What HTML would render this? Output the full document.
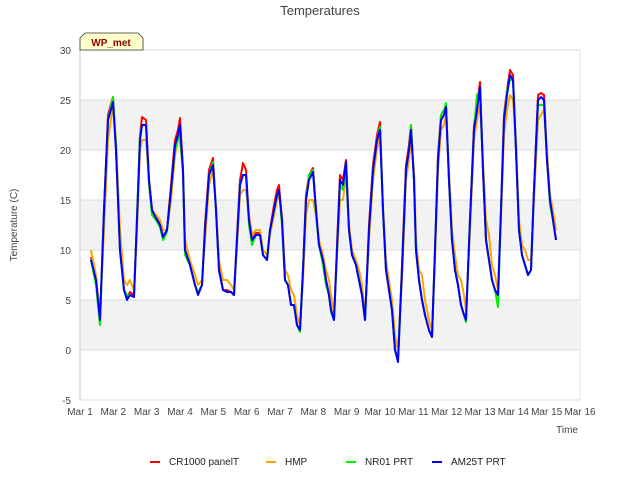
<!DOCTYPE html>
<html><head><meta charset="utf-8"><style>
body{margin:0;background:#fff;font-family:"Liberation Sans",sans-serif}
svg text{font-family:"Liberation Sans",sans-serif}
</style></head><body>
<svg id="chart" width="640" height="480" xmlns="http://www.w3.org/2000/svg">
<text x="320" y="15" text-anchor="middle" font-size="13" fill="#444">Temperatures</text>
<g id="bands"></g>
<g id="grid"></g>
<g id="yticks"></g>
<g id="xticks"></g>
<g id="series"></g>
<text transform="translate(17,225) rotate(-90)" text-anchor="middle" font-size="10" fill="#444">Temperature (C)</text>
<text x="578" y="433" text-anchor="end" font-size="10" fill="#444">Time</text>
<g>
<path d="M80,50 L80,38 L85,33 L138,33 L143,38 L143,50 Z" fill="#ffffcc" stroke="#333" stroke-width="0.8"/>
<text x="111" y="46" text-anchor="middle" font-size="10" font-weight="bold" fill="#8b0000">WP_met</text>
</g>
<g id="legend"></g>
</svg>
<script>
const times=[1.33,1.48,1.60,1.72,1.84,1.99,2.08,2.20,2.32,2.41,2.50,2.62,2.71,2.80,2.86,2.98,3.07,3.16,3.28,3.40,3.49,3.61,3.73,3.85,3.94,4.00,4.09,4.15,4.30,4.45,4.54,4.66,4.75,4.87,4.99,5.08,5.17,5.29,5.41,5.53,5.62,5.71,5.80,5.89,5.98,6.07,6.16,6.28,6.40,6.49,6.61,6.70,6.82,6.91,6.97,7.06,7.15,7.24,7.33,7.42,7.51,7.60,7.69,7.78,7.87,7.99,8.08,8.17,8.29,8.38,8.47,8.53,8.62,8.71,8.80,8.89,8.98,9.07,9.16,9.28,9.37,9.46,9.55,9.67,9.79,9.91,10.00,10.09,10.18,10.27,10.36,10.45,10.54,10.66,10.78,10.87,10.93,11.02,11.08,11.17,11.26,11.35,11.47,11.56,11.65,11.74,11.83,11.92,11.98,12.07,12.16,12.25,12.34,12.43,12.52,12.58,12.70,12.82,12.91,13.00,13.09,13.18,13.27,13.36,13.45,13.54,13.63,13.72,13.81,13.90,13.99,14.08,14.17,14.26,14.35,14.44,14.53,14.62,14.74,14.83,14.92,15.01,15.10,15.19,15.28];
const cr1000=[9.3,7,3,14,23.5,25.3,20,10,6,5.2,5.8,5.5,13,21.5,23.3,23,17,14,13.3,12.6,11.3,12,16.5,21,22,23.2,18,10,8.5,6.5,5.7,6.5,12.5,18,19.2,14,8,6,6,5.8,5.5,11.5,17,18.7,18,13,11,11.7,11.7,9.5,9,12,14.5,16,16.5,13,7,6.5,4.5,4.5,2.5,2,8,15.5,17.5,18.2,14,10.5,9,7,5.5,4,3,10.5,17.5,17,19,12,9.5,8.5,7,5.5,3,12.5,18.5,21.5,22.8,14,8,6,4,0,-1,8.5,18.5,20.5,22.5,17,10,7,5,3.5,2,1.3,10,19.5,23.5,24,24.5,17,11,8,6.5,4.5,3.5,3,13,22.5,24.5,26.8,18,11,9,7,6,5.5,14,23.5,26,28,27.5,20,12,9.5,8.5,7.5,8,16,25.5,25.7,25.5,19,15,13,11];
const hmp=[10,7.5,3.5,12,21,24.5,21,12,7,6.5,7,6,12,20,21,21,17,14,13.5,13,12,12,15,19.5,21,21,18,11,9,7.5,6.5,7,11,16.5,18,14.5,9,7,7,6.5,6,10.5,15.5,16,16,13.5,11.5,12,12,10,9.5,11.5,13.5,15,15.5,13.5,8,7.5,6,5.5,3.5,2.5,7,13.5,15,15,13.5,11,9.5,8,7,5.5,3.5,9.5,15,15,17.5,12.5,10,9,8,6.5,3.5,11,17,20,21.5,14.5,9,7,5,1.5,0,7,17,19,21,18,11,8,7.5,5,3,2,9,18,22,22.5,23.5,18,12,9.5,7.5,7,5.5,4,12,21,23,24.5,19,13,11.5,8.5,7.5,6,13,21.5,24,25.5,25,21,13,10.5,10,9,9,15,23,23.5,24,20,15.5,14,12];
const nr01=[9,6.5,2.5,14,23,25.3,20.5,10,6,5.5,5.5,5.3,13.5,21.5,22.5,22.5,16.5,13.5,13,12.3,11,11.8,16,20,21,21.5,17.5,9.5,8.5,6.5,5.7,6.5,12,17.5,18.8,14,8,6,5.8,5.8,5.5,11,16.5,17.5,17.5,12.5,10.5,11.5,11.5,9.5,9,12,14,15.5,16,12.5,7,6.5,4.5,4.5,2.5,1.8,8,15,17.5,18,13.5,10.5,8.5,6.5,5.5,3.8,3,10,16.5,16,18,12,9.5,8.5,7,5.5,3,12,18,21,22.3,14,8,6,4,0,-1,8,18,20,22.5,17,10,7,5,3.5,2,1.3,10,19,23.5,24,24.7,17,11,8,6.5,4.5,3.5,2.8,13,22,25.5,26,18,11,9,7,6,4.3,14,23,26,27,27,20,12,9.5,8.5,7.5,8,16,24.5,24.5,24.5,19,14.5,13,11];
const am25t=[9,7,3,14,23,24.8,20,10,6,5,5.5,5.3,13,21,22.5,22.5,17,14,13.2,12.5,11.3,12,16,20.5,21.5,22.5,18,10,8.5,6.5,5.5,6.5,12,17.5,18.5,14,8,6,5.8,5.8,5.5,11,16.5,17.5,17.5,13,11,11.5,11.5,9.5,9,12,14,15.5,16,13,7,6.5,4.5,4.5,2.5,2,8,15,17,17.8,14,10.5,9,7,5.5,4,3,10,17,16.5,18.8,12,9.5,8.5,7,5.5,3,12,18,21,22,14,8,6,4,0,-1.2,8,18,20,22,17,10,7,5,3.5,2,1.3,10,19,23,23.5,24.3,17,11,8,6.5,4.5,3.5,3,13,22,24,26.3,18,11,9,7,6,5.5,14,23,25.5,27.5,27,20,12,9.5,8.5,7.5,8,16,25,25.3,25,19,15,13,11];
const seriesNames=["CR1000 panelT","HMP","NR01 PRT","AM25T PRT"];
const seriesColors=["#ff0000","#ffa500","#00ee00","#0000ff"];
const yTicks=[-5,0,5,10,15,20,25,30];
const xTickLabels=["Mar 1","Mar 2","Mar 3","Mar 4","Mar 5","Mar 6","Mar 7","Mar 8","Mar 9","Mar 10","Mar 11","Mar 12","Mar 13","Mar 14","Mar 15","Mar 16"];
const NS="http://www.w3.org/2000/svg";
const L=80,R=580,T=50,B=400,yMin=-5,yMax=30,xMin=1,xMax=16;
const xs=d=>L+(d-xMin)/(xMax-xMin)*(R-L);
const ys=v=>B-(v-yMin)/(yMax-yMin)*(B-T);
function mk(tag,attrs,parent,txt){const e=document.createElementNS(NS,tag);for(const k in attrs)e.setAttribute(k,attrs[k]);if(txt!==undefined)e.textContent=txt;parent.appendChild(e);return e;}
const bands=document.getElementById('bands'),grid=document.getElementById('grid'),yt=document.getElementById('yticks'),xt=document.getElementById('xticks');
mk('rect',{x:L,y:T,width:R-L,height:B-T,fill:'#fff',stroke:'#e0e0e0'},bands);
for(let i=0;i<yTicks.length-1;i++){
 if(yTicks[i]===0||yTicks[i]===10||yTicks[i]===20){
  const r=mk('rect',{x:L,y:ys(yTicks[i+1]),width:R-L,height:ys(yTicks[i])-ys(yTicks[i+1]),fill:'#f2f2f2'},bands);
  
  
 }
}
yTicks.forEach(v=>{
 const l=mk('line',{x1:L,x2:R,y1:ys(v),y2:ys(v),stroke:'#dcdcdc','stroke-width':1},grid);
 
 
 const t=mk('text',{x:L-9,y:ys(v)+4,'text-anchor':'end','font-size':10,fill:'#444'},yt,String(v));
 
 
});
mk('line',{x1:L,x2:L,y1:T,y2:B,stroke:'#ccc'},grid);
xTickLabels.forEach((s,i)=>{
 const t=mk('text',{x:xs(xMin+i),y:B+15,'text-anchor':'middle','font-size':10,fill:'#444'},xt,s);
 
 
});
const data=[cr1000,hmp,nr01,am25t];
const sg=document.getElementById('series');
data.forEach((vals,si)=>{
 const d=vals.map((v,i)=>(i?'L':'M')+xs(times[i]).toFixed(1)+','+ys(v).toFixed(1)).join(' ');
 const p=mk('path',{d:d,fill:'none',stroke:seriesColors[si],'stroke-width':2,'stroke-linejoin':'round'},sg);
 
 
});
const lg=document.getElementById('legend');
const lx=[150,266,346,432];
seriesNames.forEach((n,i)=>{
 const g=mk('g',{},lg);
 
 
 mk('line',{x1:lx[i],x2:lx[i]+10,y1:462,y2:462,stroke:seriesColors[i],'stroke-width':2},g);
 mk('text',{x:lx[i]+19,y:465,'font-size':10,fill:'#222'},g,n);
});
</script>
</body></html>
